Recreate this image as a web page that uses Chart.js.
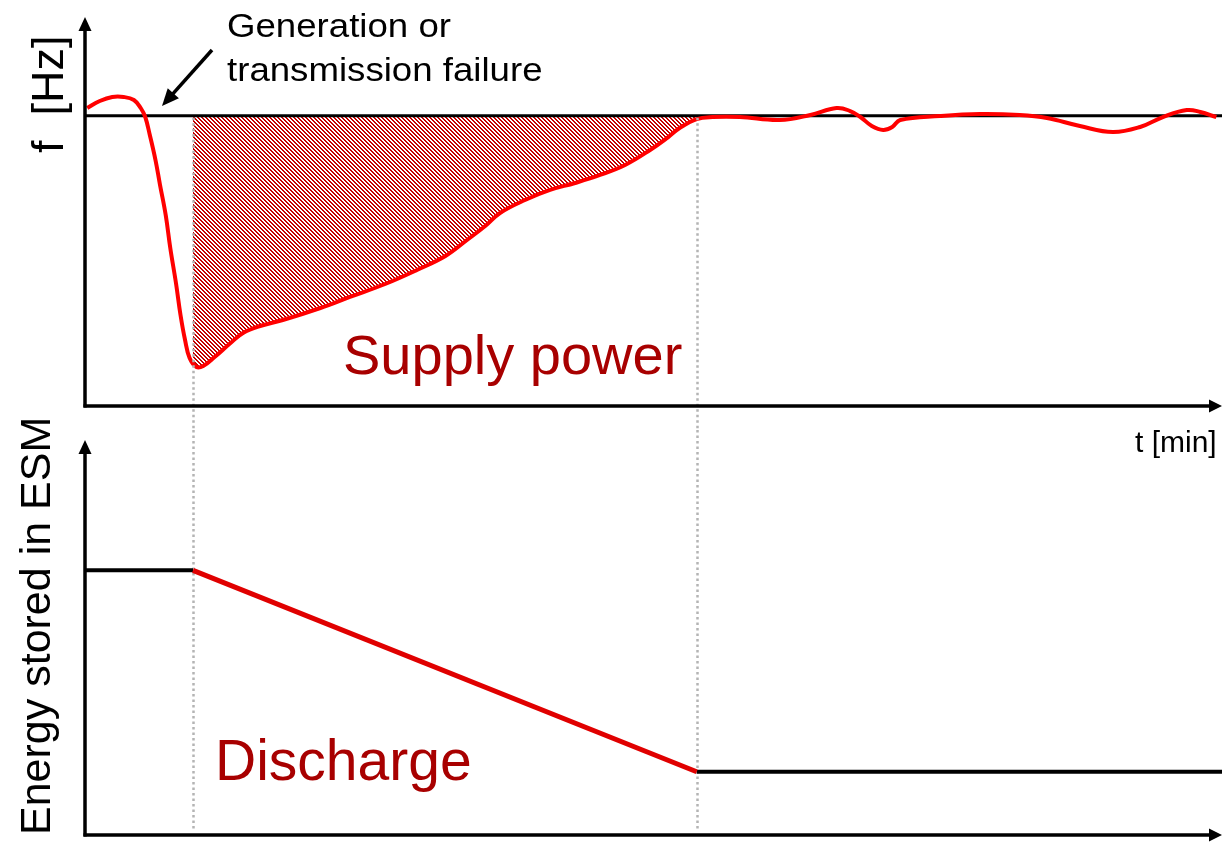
<!DOCTYPE html>
<html><head><meta charset="utf-8">
<script src="https://cdn.jsdelivr.net/npm/chart.js@4.4.1/dist/chart.umd.min.js"></script>
<style>
html,body{margin:0;padding:0;background:#fff;width:1222px;height:842px;overflow:hidden}
canvas{position:absolute;left:0;top:0}
</style></head><body>
<canvas id="topChart" width="1222" height="842"></canvas>
<canvas id="bottomChart" width="1222" height="842"></canvas>
<script>
// ---- data (time in arbitrary units 0..100, frequency in Hz, energy in %) ----
const freqTime = [0.2,1.3,2.4,3.4,4.3,4.9,5.3,5.7,6.2,6.6,7.1,7.5,8.0,8.4,8.8,9.2,9.8,10.4,11.4,12.8,13.9,15.4,17.4,20.7,23.3,26.4,29.2,31.7,33.6,35.2,36.5,38.7,40.9,43.1,45.3,47.5,49.7,51.3,52.3,53.8,55.2,57.6,61.1,63.8,66.1,67.3,68.2,69.2,70.2,71.0,71.7,75.2,78.7,82.2,84.6,87.5,90.4,92.8,94.8,96.9,98.1,99.5];
const freqHz = [50.080,50.152,50.194,50.194,50.163,50.080,49.987,49.801,49.542,49.284,48.973,48.633,48.271,47.941,47.682,47.496,47.403,47.413,47.506,47.651,47.755,47.827,47.889,48.013,48.127,48.261,48.406,48.550,48.716,48.860,48.995,49.129,49.233,49.305,49.388,49.491,49.646,49.780,49.873,49.966,49.987,49.987,49.956,50.008,50.080,50.049,49.987,49.894,49.853,49.884,49.956,49.997,50.018,50.008,49.977,49.894,49.832,49.884,49.987,50.059,50.039,49.987];
const nominalHz = 50;
const supplyTime = [9.5,9.8,10.4,11.4,12.8,13.9,15.4,17.4,20.7,23.3,26.4,29.2,31.7,33.6,35.2,36.5,38.7,40.9,43.1,45.3,47.5,49.7,51.3,52.3,53.8];
const supplyHz = [47.430,47.403,47.413,47.506,47.651,47.755,47.827,47.889,48.013,48.127,48.261,48.406,48.550,48.716,48.860,48.995,49.129,49.233,49.305,49.388,49.491,49.646,49.780,49.873,49.966];
const eventTimes = [9.5, 53.8];
const energyTime = [0, 9.5, 53.8, 100];
const energyLevel = [67, 67, 16, 16];
const fRange = [47, 51];
const eRange = [0, 100];

const FONT = '"Liberation Sans", Arial, sans-serif';
const DARKRED = '#a80000';

function pts(xs, ys){ return xs.map((x,i)=>({x:x, y:ys[i]})); }

function hatchPattern(){
  const c = document.createElement('canvas'); c.width = 4; c.height = 4;
  const g = c.getContext('2d');
  g.fillStyle = '#ffffff'; g.fillRect(0,0,4,4);
  g.fillStyle = '#c40000';
  for (let r = 0; r < 4; r++){ g.fillRect(r, r, 1, 1); g.fillRect((r+1)%4, r, 1, 1); }
  return g.createPattern(c, 'repeat');
}

function arrow(ctx, x0, y0, x1, y1, w, len, half){
  const a = Math.atan2(y1-y0, x1-x0), c = Math.cos(a), s = Math.sin(a);
  ctx.save();
  ctx.strokeStyle = '#000'; ctx.fillStyle = '#000'; ctx.lineWidth = w; ctx.lineCap = 'butt';
  ctx.beginPath(); ctx.moveTo(x0, y0); ctx.lineTo(x1 - c*len*0.7, y1 - s*len*0.7); ctx.stroke();
  ctx.beginPath(); ctx.moveTo(x1, y1);
  ctx.lineTo(x1 - c*len + s*half, y1 - s*len - c*half);
  ctx.lineTo(x1 - c*len - s*half, y1 - s*len + c*half);
  ctx.closePath(); ctx.fill();
  ctx.restore();
}

function vText(ctx, txt, x, y, size, color){
  ctx.save(); ctx.translate(x, y); ctx.rotate(-Math.PI/2);
  ctx.font = size + 'px ' + FONT; ctx.fillStyle = color; ctx.textBaseline = 'alphabetic'; ctx.textAlign = 'left';
  ctx.fillText(txt, 0, 0); ctx.restore();
}
function hText(ctx, txt, x, y, size, color, sx){
  ctx.save(); ctx.translate(x, y); ctx.scale(sx || 1, 1);
  ctx.font = size + 'px ' + FONT; ctx.fillStyle = color; ctx.textBaseline = 'alphabetic'; ctx.textAlign = 'left';
  ctx.fillText(txt, 0, 0); ctx.restore();
}

function eventLines(chart, yFrom, yTo){
  const ctx = chart.ctx, xs = chart.scales.x;
  ctx.save(); ctx.strokeStyle = '#b4b4b4'; ctx.lineWidth = 2.5; ctx.setLineDash([2.5, 3]);
  eventTimes.forEach(t => { const px = Math.round(xs.getPixelForValue(t)) + 0.5;
    ctx.beginPath(); ctx.moveTo(px, yFrom); ctx.lineTo(px, yTo); ctx.stroke(); });
  ctx.restore();
}

const common = {
  responsive: false, animation: false, events: [],
  plugins: { legend: { display: false }, tooltip: { enabled: false } },
  elements: { point: { radius: 0 } }
};

// ---- top chart: frequency ----
new Chart(document.getElementById('topChart'), {
  type: 'line',
  data: { datasets: [
    { data: pts(freqTime, freqHz), borderColor: '#ff0000', borderWidth: 4, tension: 0.4, fill: false },
    { data: pts([0, 100], [nominalHz, nominalHz]), borderColor: '#000', borderWidth: 3, fill: false },
    { data: pts(supplyTime, supplyHz), borderWidth: 0, borderColor: 'rgba(0,0,0,0)', tension: 0.4,
      fill: { value: nominalHz }, backgroundColor: hatchPattern() }
  ]},
  options: Object.assign({}, common, {
    layout: { padding: { left: 85, right: 0, top: 19, bottom: 436 } },
    scales: {
      x: { type: 'linear', min: 0, max: 100, display: false },
      y: { type: 'linear', min: fRange[0], max: fRange[1], display: false }
    }
  }),
  plugins: [{
    id: 'decoTop',
    afterDatasetsDraw(chart){
      const ys = chart.scales.y;
      eventLines(chart, ys.getPixelForValue(nominalHz) + 2, 430);
    },
    afterDraw(chart){
      const ctx = chart.ctx, a = chart.chartArea;
      arrow(ctx, 85, a.bottom + 1.5, 85, 17, 3.5, 14, 6.5);
      arrow(ctx, 83.5, a.bottom, 1222, a.bottom, 3.5, 13, 6.5);
      arrow(ctx, 212, 50, 162, 106, 3.5, 17, 7.5);
      hText(ctx, 'Generation or', 227, 37, 33, '#000', 1.11);
      hText(ctx, 'transmission failure', 227, 81, 33, '#000', 1.11);
      hText(ctx, 'Supply power', 343, 374, 56, DARKRED);
      vText(ctx, 'f  [Hz]', 63, 153, 45, '#000');
    }
  }]
});

// ---- bottom chart: energy stored ----
new Chart(document.getElementById('bottomChart'), {
  type: 'line',
  data: { datasets: [
    { data: pts(energyTime.slice(1,3), energyLevel.slice(1,3)), borderColor: '#e00000', borderWidth: 5, fill: false },
    { data: pts(energyTime.slice(0,2), energyLevel.slice(0,2)), borderColor: '#000', borderWidth: 4, fill: false },
    { data: pts(energyTime.slice(2,4), energyLevel.slice(2,4)), borderColor: '#000', borderWidth: 4, fill: false }
  ]},
  options: Object.assign({}, common, {
    layout: { padding: { left: 85, right: 0, top: 440, bottom: 7 } },
    scales: {
      x: { type: 'linear', min: 0, max: 100, display: false },
      y: { type: 'linear', min: eRange[0], max: eRange[1], display: false }
    }
  }),
  plugins: [{
    id: 'decoBottom',
    beforeDatasetsDraw(chart){ eventLines(chart, 430, chart.chartArea.bottom - 6); },
    afterDraw(chart){
      const ctx = chart.ctx, a = chart.chartArea;
      arrow(ctx, 85, a.bottom + 1.5, 85, a.top, 3.5, 14, 6.5);
      arrow(ctx, 83.5, a.bottom, 1222, a.bottom, 3.5, 13, 6.5);
      hText(ctx, 't [min]', 1135, 452, 30, '#000');
      hText(ctx, 'Discharge', 215, 780, 57, DARKRED);
      vText(ctx, 'Energy stored in ESM', 50, 835, 43, '#000');
    }
  }]
});
</script>
</body></html>
